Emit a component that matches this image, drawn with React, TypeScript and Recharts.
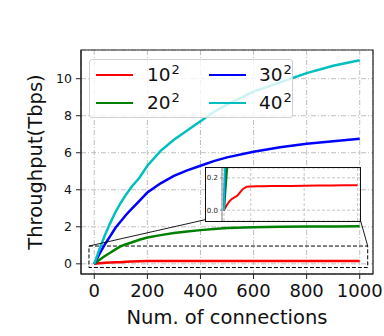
import React from 'react';
import { LineChart, Line, XAxis, YAxis, CartesianGrid, ReferenceArea, ReferenceLine, Legend, Label } from 'recharts';

const CONNECTIONS = [0, 20, 40, 60, 80, 100, 120, 140, 170, 200, 250, 300, 350, 400, 450, 500, 600, 700, 800, 900, 1000];
const S10 = [0, 0.03, 0.055, 0.07, 0.08, 0.09, 0.11, 0.13, 0.145, 0.147, 0.148, 0.148, 0.149, 0.149, 0.15, 0.15, 0.151, 0.152, 0.153, 0.154, 0.155];
const S20 = [0, 0.22, 0.42, 0.6, 0.78, 0.95, 1.06, 1.15, 1.3, 1.42, 1.55, 1.66, 1.75, 1.82, 1.88, 1.93, 1.98, 2.0, 2.01, 2.02, 2.03];
const S30 = [0, 0.55, 1.05, 1.5, 1.95, 2.3, 2.65, 2.95, 3.4, 3.85, 4.35, 4.75, 5.05, 5.3, 5.55, 5.75, 6.05, 6.3, 6.48, 6.62, 6.75];
const S40 = [0, 0.8, 1.55, 2.2, 2.8, 3.3, 3.75, 4.15, 4.65, 5.3, 6.1, 6.7, 7.2, 7.7, 8.2, 8.6, 9.3, 9.8, 10.3, 10.7, 11.0];

const SERIES_KEYS = ['s10', 's20', 's30', 's40'];
const SERIES_BASES = ['10', '20', '30', '40'];
const SERIES_EXP = '2';
const SERIES_COLORS = ['#ff0000', '#008000', '#0000ff', '#00bfbf'];
const SERIES_VALUES = [S10, S20, S30, S40];

const X_TICKS = [0, 200, 400, 600, 800, 1000];
const Y_TICKS = [0, 2, 4, 6, 8, 10];
const INSET_Y_TICKS = [0, 0.2];

const X_DOMAIN = [-50, 1050];
const Y_DOMAIN = [-0.55, 11.55];
const INSET_X_DOMAIN = [-15, 1018];
const INSET_Y_DOMAIN = [-0.067, 0.261];

// zoom rectangle (data units) and inset corners (data units of main axes)
const ZOOM_RECT = { x1: -20, x2: 1030, y1: -0.2, y2: 0.96 };
const INSET_BL = { x: 420, y: 2.39 };
const INSET_BR = { x: 1002, y: 2.39 };

const rows = CONNECTIONS.map((x, i) => {
  const r: Record<string, number> = { x };
  SERIES_KEYS.forEach((k, j) => {
    r[k] = SERIES_VALUES[j][i];
  });
  return r;
});

const FONT = '"DejaVu Sans", sans-serif';

const LegendContent = (props: any) => {
  const payload = props.payload || [];
  const colLine = [6, 119];
  const colText = [57, 169];
  const rowC = [15, 43];
  return (
    <div
      style={{
        position: 'relative',
        width: 204,
        height: 59,
        boxSizing: 'border-box',
        border: '1px solid #d0d0d0',
        borderRadius: 3,
        background: 'rgba(255,255,255,0.8)',
        fontFamily: FONT,
      }}
    >
      {payload.map((e: any, i: number) => {
        const col = Math.floor(i / 2);
        const row = i % 2;
        const base = String(e.value).split('^')[0];
        const exp = String(e.value).split('^')[1];
        return (
          <React.Fragment key={i}>
            <div
              style={{
                position: 'absolute',
                left: colLine[col],
                top: rowC[row] - 1.25,
                width: 37,
                height: 2.5,
                background: e.color,
              }}
            />
            <div
              style={{
                position: 'absolute',
                left: colText[col],
                top: rowC[row] - 12,
                height: 24,
                whiteSpace: 'nowrap',
                fontSize: 18.5,
                color: '#111',
                lineHeight: '24px',
              }}
            >
              {base}
              <span style={{ fontSize: 13, position: 'relative', top: -7, marginLeft: 1 }}>{exp}</span>
            </div>
          </React.Fragment>
        );
      })}
    </div>
  );
};

const YLabel = (props: any) => {
  const vb = props.viewBox || { x: 0, y: 50, width: 81, height: 224 };
  const x = vb.x + 42;
  const y = vb.y + vb.height / 2;
  return (
    <text x={x} y={y} transform={`rotate(-90 ${x} ${y})`} textAnchor="middle" fontSize={19.5} fill="#111" fontFamily={FONT}>
      Throughput(Tbps)
    </text>
  );
};

export default function App() {
  return (
    <div style={{ position: 'absolute', left: 0, top: 0, width: 384, height: 336, fontFamily: FONT, background: '#fff' }}>
      <LineChart width={384} height={336} data={rows} margin={{ top: 50, right: 11, bottom: 0, left: 0 }}>
        <CartesianGrid stroke="#b8b8b8" strokeDasharray="5 2 1 2" strokeWidth={0.9} />
        <XAxis
          dataKey="x"
          type="number"
          domain={X_DOMAIN}
          ticks={X_TICKS}
          allowDataOverflow
          height={62}
          tickSize={5}
          tickMargin={5}
          tick={{ fontSize: 18, fill: '#111' }}
          stroke="#222"
        >
          <Label value="Num. of connections" position="insideBottom" offset={12} fontSize={19.5} fill="#111" />
        </XAxis>
        <YAxis
          type="number"
          domain={Y_DOMAIN}
          ticks={Y_TICKS}
          allowDataOverflow
          width={81}
          tickSize={5}
          tickMargin={4}
          tick={{ fontSize: 12.5, fill: '#111' }}
          stroke="#222"
          label={{ content: YLabel }}
        />
        {SERIES_KEYS.map((k, j) => (
          <Line
            key={k}
            dataKey={k}
            name={`${SERIES_BASES[j]}^${SERIES_EXP}`}
            stroke={SERIES_COLORS[j]}
            strokeWidth={2.5}
            dot={false}
            isAnimationActive={false}
          />
        ))}
        <ReferenceArea
          x1={ZOOM_RECT.x1}
          x2={ZOOM_RECT.x2}
          y1={ZOOM_RECT.y1}
          y2={ZOOM_RECT.y2}
          fill="none"
          fillOpacity={0}
          stroke="#000"
          strokeDasharray="4 2"
          strokeWidth={1}
          ifOverflow="visible"
        />
        <ReferenceLine
          segment={[{ x: ZOOM_RECT.x1, y: ZOOM_RECT.y2 }, INSET_BL]}
          stroke="#000"
          strokeWidth={0.9}
          ifOverflow="visible"
        />
        <ReferenceLine
          segment={[{ x: ZOOM_RECT.x2, y: ZOOM_RECT.y2 }, INSET_BR]}
          stroke="#000"
          strokeWidth={0.9}
          ifOverflow="visible"
        />
        <ReferenceArea
          x1={X_DOMAIN[0]}
          x2={X_DOMAIN[1]}
          y1={Y_DOMAIN[0]}
          y2={Y_DOMAIN[1]}
          fill="none"
          fillOpacity={0}
          stroke="#222"
          strokeWidth={1.2}
          ifOverflow="visible"
        />
        <Legend
          layout="horizontal"
          verticalAlign="middle"
          align="center"
          wrapperStyle={{ left: 89, top: 59, width: 204, height: 59 }}
          content={LegendContent}
        />
      </LineChart>
      <div
        style={{
          position: 'absolute',
          left: 205,
          top: 167,
          width: 156,
          height: 55,
          boxSizing: 'border-box',
          border: '1px solid #111',
          background: '#fff',
        }}
      >
        <LineChart width={154} height={53} data={rows} margin={{ top: 0, right: 0, bottom: 0, left: 0 }}>
          <CartesianGrid stroke="#b8b8b8" strokeDasharray="3 2" strokeWidth={0.8} />
          <XAxis dataKey="x" type="number" domain={INSET_X_DOMAIN} ticks={X_TICKS} allowDataOverflow hide />
          <YAxis
            type="number"
            domain={INSET_Y_DOMAIN}
            ticks={INSET_Y_TICKS}
            allowDataOverflow
            width={16}
            tickSize={2}
            tickMargin={2}
            tickFormatter={(v: number) => v.toFixed(1)}
            tick={{ fontSize: 7, fill: '#222' }}
            stroke="#888"
          />
          {SERIES_KEYS.map((k, j) => (
            <Line
              key={k}
              dataKey={k}
              stroke={SERIES_COLORS[j]}
              strokeWidth={2}
              dot={false}
              isAnimationActive={false}
            />
          ))}
        </LineChart>
      </div>
    </div>
  );
}
